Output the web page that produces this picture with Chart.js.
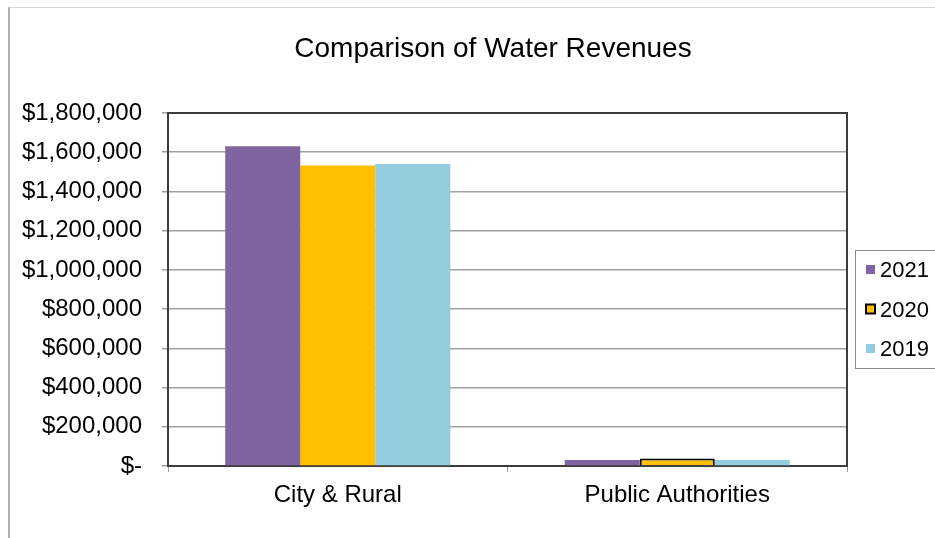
<!DOCTYPE html>
<html>
<head>
<meta charset="utf-8">
<script src="https://cdn.jsdelivr.net/npm/chart.js@4"></script>
<style>
  body { margin: 0; background: #fff; }
  #wrap { position: relative; width: 935px; height: 538px; }
  #frame { position: absolute; left: 8px; top: 7px; right: 0; bottom: 0;
           border-left: 2px solid #b0b0b0; border-top: 1px solid #d8d8d8; }
  canvas { position: absolute; left: 0; top: 0; }
</style>
</head>
<body>
<div id="wrap">
  <div id="frame"></div>
  <canvas id="chart" width="935" height="538"></canvas>
</div>
<script>
const categories = ['City & Rural', 'Public Authorities'];
const years = ['2021', '2020', '2019'];
const rev2021 = [1630000, 30000];
const rev2020 = [1532000, 38000];
const rev2019 = [1540000, 30000];
const yTicks = [0, 200000, 400000, 600000, 800000, 1000000, 1200000, 1400000, 1600000, 1800000];

const FONT = '"Liberation Sans", Arial, sans-serif';

const money = v => v === 0 ? '$-' : '$' + v.toLocaleString('en-US');

// frame round the plot area, title and boxed legend
const extras = {
    id: 'extras',
    beforeDatasetsDraw(chart) {
        const { ctx, chartArea: a } = chart;
        ctx.save();
        ctx.strokeStyle = '#3c3c3c';
        ctx.lineWidth = 2;
        ctx.beginPath();
        ctx.moveTo(a.left, a.top);
        ctx.lineTo(a.right, a.top);
        ctx.lineTo(a.right, a.bottom);
        ctx.stroke();
        ctx.restore();
    },
    afterDraw(chart) {
        const { ctx } = chart;
        ctx.save();
        ctx.fillStyle = '#000';
        ctx.font = '28px ' + FONT;
        ctx.textAlign = 'center';
        ctx.textBaseline = 'middle';
        ctx.fillText('Comparison of Water Revenues', 493, 49);

        ctx.strokeStyle = '#8a8a8a';
        ctx.lineWidth = 1;
        ctx.strokeRect(855.5, 250.5, 100, 118);
        ctx.font = '22px ' + FONT;
        ctx.textAlign = 'left';
        chart.data.datasets.forEach((ds, i) => {
            const y = 270 + i * 39.5;
            ctx.fillStyle = ds.backgroundColor;
            ctx.fillRect(866, y - 5, 9, 9);
            if (ds.legendBorder) {
                ctx.strokeStyle = '#000';
                ctx.lineWidth = 2;
                ctx.strokeRect(866, y - 5, 9, 9);
            }
            ctx.fillStyle = '#000';
            ctx.fillText(ds.label, 880, y + 1);
        });
        ctx.restore();
    }
};

new Chart(document.getElementById('chart'), {
    type: 'bar',
    data: {
        labels: categories,
        datasets: [
            { label: years[0], data: rev2021, backgroundColor: '#8064A2', borderWidth: 0 },
            { label: years[1], data: rev2020, backgroundColor: '#FFC000',
              borderColor: '#000', borderWidth: [0, 2], legendBorder: true },
            { label: years[2], data: rev2019, backgroundColor: '#93CDDD', borderWidth: 0 }
        ]
    },
    options: {
        responsive: false,
        animation: false,
        layout: { padding: { left: 0, right: 88, top: 113, bottom: 0 } },
        datasets: { bar: { categoryPercentage: 0.663, barPercentage: 1 } },
        plugins: { legend: { display: false }, title: { display: false }, tooltip: { enabled: false } },
        scales: {
            x: {
                grid: { drawOnChartArea: false, color: '#999', tickLength: 6, offset: true },
                border: { color: '#3c3c3c', width: 2 },
                ticks: { color: '#000', font: { family: FONT, size: 24 }, padding: 9 },
                afterFit(s) { s.height = 72; }
            },
            y: {
                min: 0,
                max: 1800000,
                afterBuildTicks(s) { s.ticks = yTicks.map(v => ({ value: v })); },
                grid: { color: '#a0a0a0', lineWidth: 1.5, tickLength: 6 },
                border: { color: '#3c3c3c', width: 2 },
                ticks: { color: '#000', font: { family: FONT, size: 24 }, padding: 20, callback: money },
                afterFit(s) { s.width = 168; }
            }
        }
    },
    plugins: [extras]
});
</script>
</body>
</html>
